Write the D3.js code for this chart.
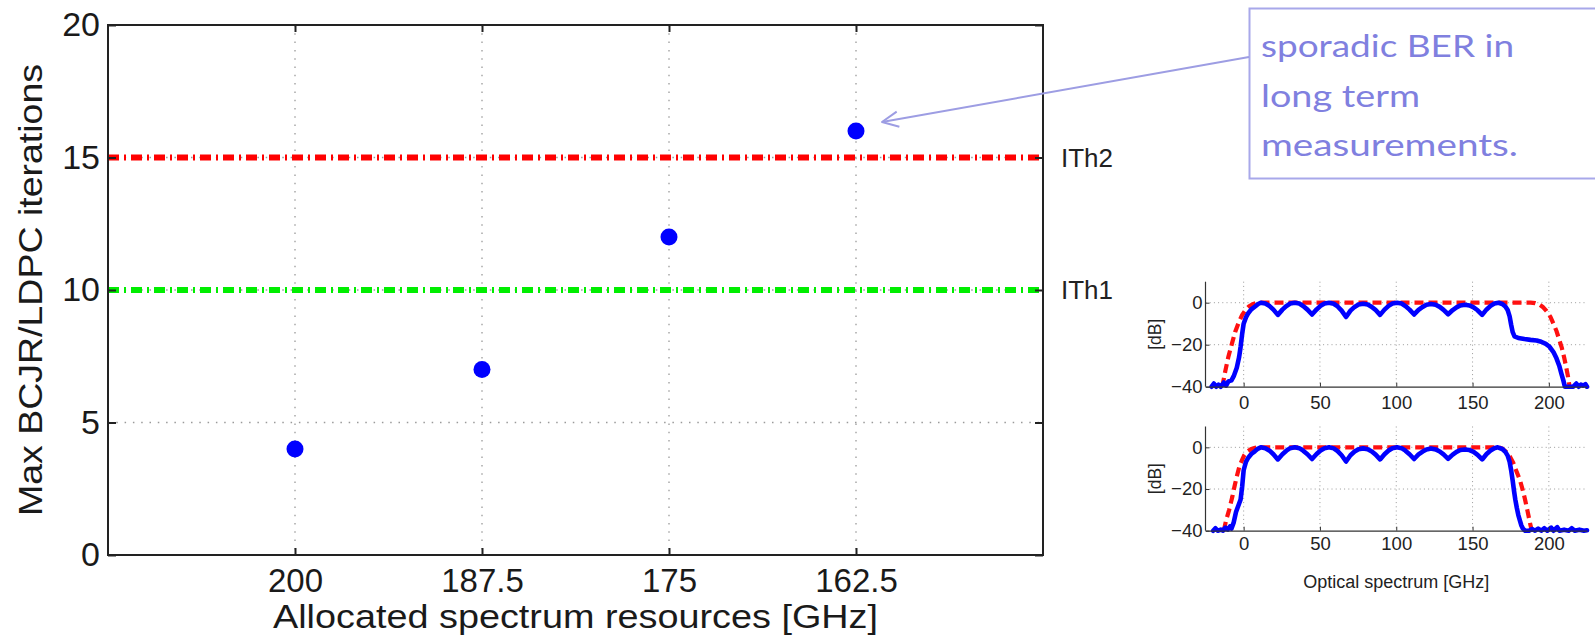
<!DOCTYPE html>
<html>
<head>
<meta charset="utf-8">
<script src="https://cdn.jsdelivr.net/npm/d3@7"></script>
<style>
  html, body { margin: 0; padding: 0; background: #fff; }
  svg { display: block; }
</style>
</head>
<body>
<svg id="chart" width="1595" height="638" style='font-family: "Liberation Sans", Arial, Helvetica, sans-serif;'></svg>
<script>
// ---------------- data ----------------
const spectrumCats = [200, 187.5, 175, 162.5];          // allocated spectrum [GHz]
const maxIterations = [4, 7, 12, 16];                   // max BCJR/LDPC iterations
const yTickValues = [0, 5, 10, 15, 20];
const thresholdValues = [15, 10];
const thresholdLabels = ["ITh2", "ITh1"];

const insetXTicks = [0, 50, 100, 150, 200];
const insetYTicks = [0, -20, -40];

// top inset: measured (blue) and filter (red) spectrum, [GHz, dB]
const specTopBlue = [
  [-21,-40],[-19.5,-38.5],[-18,-40],[-16.5,-39],[-15,-40],[-13,-38],[-11.5,-39.5],[-10,-37.5],[-8,-37],
  [-6.5,-35],[-4.5,-31],[-3,-26],[-2,-21],[-1,-15],[0,-10],[1.5,-7],[3,-5],[5,-3.2],[7.5,-1.8],[9.5,-0.6],[11.2,0],
  [14.2,-0.4],[17,-1.6],[19.5,-3.3],[22.4,-5.8],
  [25.4,-3.3],[28,-1.6],[30.5,-0.4],[33.5,0],[36.5,-0.4],[39,-1.6],[41.8,-3.3],[44.8,-5.6],
  [47.8,-3.2],[50.4,-1.5],[53,-0.4],[56,0],[59,-0.5],[61.6,-1.8],[64.2,-3.8],[67.1,-6.8],
  [70,-3.8],[72.7,-2],[75.3,-0.9],[78.3,-0.5],[81.3,-0.9],[84,-2],[86.5,-3.5],[89.4,-5.8],
  [92.3,-3.3],[95,-1.5],[97.5,-0.4],[100.5,0],[103.5,-0.4],[106,-1.6],[108.7,-3.3],[111.7,-5.6],
  [114.6,-3.4],[117.3,-2],[119.8,-1],[122.8,-0.6],[125.8,-1],[128.5,-2],[131,-3.4],[134,-5.5],
  [137,-3.5],[139.5,-2.2],[142,-1.3],[145,-1],[148,-1.3],[150.7,-2.2],[153.3,-3.6],[156.3,-5.8],
  [159.2,-3.2],[161.8,-1.5],[164.3,-0.4],[167,0],
  [169.5,-0.6],[171.5,-1.8],[173,-3.5],[174.3,-6.5],[175.3,-10.5],[176.3,-14],[177.5,-16],[180,-16.8],
  [184,-17.3],[188,-17.7],[192,-18],[195,-18.6],[198,-19.6],[200.5,-21],[203,-23.5],[205,-26.5],
  [206.8,-30],[208.3,-34],[209.5,-37],[210.5,-40],
  [213,-40],[216,-40],[218,-38.5],[219.5,-40],[221,-39],[222.5,-39.5],[224,-38.8],[225,-40]
];
const specTopRed = [
  [-14,-40],[-12,-32.5],[-10,-25.7],[-7.5,-19],[-5.5,-13.8],[-3,-9],[-1,-5.9],[1.5,-3.2],[3.5,-1.8],
  [6,-0.7],[8.8,0],[188,0],[191,-0.2],[193.5,-0.8],[196,-2],[198.5,-4],[201,-6.7],[203,-10],[205,-13.5],
  [207,-18],[208.5,-21.5],[210,-26],[211.3,-30.5],[212.5,-35],[213.6,-40]
];
// bottom inset
const specBottomBlue = [
  [-20,-40],[-18.5,-38.8],[-17,-40],[-15,-39.5],[-13.5,-40],[-12,-38.5],[-10.5,-39.5],[-9,-38],
  [-8,-39],[-6.5,-36],[-5,-31],[-3.5,-28],[-2,-25],[-1,-19],[0,-11],[1.5,-7],[3,-5],[5,-3.2],[7.5,-1.8],[9.5,-0.6],[11.2,0],
  [14.2,-0.4],[17,-1.6],[19.5,-3.3],[22.4,-5.8],
  [25.4,-3.3],[28,-1.6],[30.5,-0.4],[33.5,0],[36.5,-0.4],[39,-1.6],[41.8,-3.3],[44.8,-5.6],
  [47.8,-3.2],[50.4,-1.5],[53,-0.4],[56,0],[59,-0.5],[61.6,-1.8],[64.2,-3.8],[67.1,-6.8],
  [70,-3.8],[72.7,-2],[75.3,-0.9],[78.3,-0.5],[81.3,-0.9],[84,-2],[86.5,-3.5],[89.4,-5.8],
  [92.3,-3.3],[95,-1.5],[97.5,-0.4],[100.5,0],[103.5,-0.4],[106,-1.6],[108.7,-3.3],[111.7,-5.6],
  [114.6,-3.4],[117.3,-2],[119.8,-1],[122.8,-0.6],[125.8,-1],[128.5,-2],[131,-3.4],[134,-5.5],
  [137,-3.5],[139.5,-2.2],[142,-1.3],[145,-1],[148,-1.3],[150.7,-2.2],[153.3,-3.6],[156.3,-5.8],
  [159.2,-3.2],[161.8,-1.5],[164.3,-0.4],[166.5,0],
  [169.5,-0.8],[171.5,-2.2],[173,-4],[174.3,-7],[175.3,-11],[176.3,-16],[177.2,-21],[178,-25],
  [179,-29],[180,-32.5],[181,-35],[182,-37.5],[183,-39],[184.5,-40],
  [187,-40],[189,-39.2],[191,-40],[193,-39],[195,-40],[197,-38.8],[199,-40],[201.5,-38.5],[203,-40],
  [205.5,-38.3],[207,-40],[210,-39.5],[213,-40],[215,-38.8],[217,-40],[220,-39.5],[223,-40],[225,-39.8]
];
const specBottomRed = [
  [-13,-40],[-11.5,-35],[-9.5,-30],[-7.5,-24],[-6,-18.8],[-4.5,-14],[-2.8,-9.2],[-1,-6],[0.4,-3.8],
  [2.5,-2],[4.8,-0.9],[7,-0.3],[9.2,0],[167,0],[169.5,-0.6],[172.4,-2.4],[174.5,-4.5],[176.7,-7.5],
  [178.5,-11],[181,-15.6],[182.7,-20],[184.4,-25],[186,-30.5],[187.7,-36.5],[188.8,-40]
];

const annotationLines = ["sporadic BER in", "long term", "measurements."];

// ---------------- main chart ----------------
const svg = d3.select("#chart");
const L = 108, R = 1043, T = 25, B = 555;
const x = d3.scaleLinear().domain([212.5, 150]).range([L, R]);
const y = d3.scaleLinear().domain([0, 20]).range([B, T]);

const gridColor = "#9a9a9a";
const grid = svg.append("g");
grid.selectAll("line.vx").data(spectrumCats).join("line")
  .attr("x1", d => x(d)).attr("x2", d => x(d)).attr("y1", T).attr("y2", B)
  .attr("stroke", gridColor).attr("stroke-width", 1.3).attr("stroke-dasharray", "1.5,6.8");
grid.selectAll("line.hy").data(yTickValues.filter(v => v > 0 && v < 20)).join("line")
  .attr("x1", L).attr("x2", R).attr("y1", d => y(d)).attr("y2", d => y(d))
  .attr("stroke", gridColor).attr("stroke-width", 1.3).attr("stroke-dasharray", "1.5,6.8");

// threshold lines
const thrColors = ["#ff0000", "#00ee00"];
svg.append("g").selectAll("line").data(thresholdValues).join("line")
  .attr("x1", L).attr("x2", R).attr("y1", d => y(d)).attr("y2", d => y(d))
  .attr("stroke", (d, i) => thrColors[i]).attr("stroke-width", 6)
  .attr("stroke-dasharray", "11,5,2,5");
svg.append("g").selectAll("text").data(thresholdValues).join("text")
  .attr("x", R + 18).attr("y", d => y(d)).attr("dy", "0.36em")
  .attr("font-size", 26).attr("fill", "#222")
  .text((d, i) => thresholdLabels[i]);

// points
svg.append("g").selectAll("circle").data(spectrumCats).join("circle")
  .attr("cx", d => x(d)).attr("cy", (d, i) => y(maxIterations[i])).attr("r", 8.5)
  .attr("fill", "#0000ff");

// axes
const fmt = d => String(d);
const gx = svg.append("g").attr("transform", `translate(0,${B})`)
  .call(d3.axisBottom(x).tickValues(spectrumCats).tickFormat(fmt).tickSize(-7).tickSizeOuter(0).tickPadding(14));
const gxt = svg.append("g").attr("transform", `translate(0,${T})`)
  .call(d3.axisTop(x).tickValues(spectrumCats).tickFormat("").tickSize(-7).tickSizeOuter(0));
const gy = svg.append("g").attr("transform", `translate(${L},0)`)
  .call(d3.axisLeft(y).tickValues(yTickValues).tickFormat(fmt).tickSize(-8).tickSizeOuter(0).tickPadding(8));
const gyr = svg.append("g").attr("transform", `translate(${R},0)`)
  .call(d3.axisRight(y).tickValues(yTickValues).tickFormat("").tickSize(-8).tickSizeOuter(0));
[gx, gxt, gy, gyr].forEach(g => {
  g.select(".domain").remove();
  g.selectAll(".tick line").attr("stroke", "#222").attr("stroke-width", 2);
  g.selectAll(".tick text").attr("fill", "#1a1a1a")
    .style("font-size", "34px").style("font-family", '"Liberation Sans", Arial, sans-serif');
});
gx.selectAll(".tick text").style("font-size", "33px");
svg.append("rect").attr("x", L).attr("y", T).attr("width", R - L).attr("height", B - T)
  .attr("fill", "none").attr("stroke", "#222").attr("stroke-width", 2);

svg.append("text").attr("x", (L + R) / 2).attr("y", 628).attr("text-anchor", "middle")
  .attr("font-size", 33).attr("fill", "#1a1a1a")
  .attr("textLength", 605).attr("lengthAdjust", "spacingAndGlyphs")
  .text("Allocated spectrum resources [GHz]");
svg.append("text").attr("transform", `translate(42,${(T + B) / 2}) rotate(-90)`)
  .attr("text-anchor", "middle").attr("font-size", 33).attr("fill", "#1a1a1a")
  .attr("textLength", 452).attr("lengthAdjust", "spacingAndGlyphs")
  .text("Max BCJR/LDPC iterations");

// ---------------- insets ----------------
const xi = d3.scaleLinear().domain([-25, 225]).range([1205.5, 1587]);
function drawInset(yBottom, yTop, blue, red, labelPad, withXLabel) {
  const yi = d3.scaleLinear().domain([-40, 10]).range([yBottom, yTop]);
  const g = svg.append("g");
  g.selectAll("line.gx").data(insetXTicks).join("line")
    .attr("x1", d => xi(d)).attr("x2", d => xi(d)).attr("y1", yTop).attr("y2", yBottom)
    .attr("stroke", "#9a9a9a").attr("stroke-width", 1).attr("stroke-dasharray", "1,3.2");
  g.selectAll("line.gy").data(insetYTicks.filter(v => v > -40)).join("line")
    .attr("x1", xi.range()[0]).attr("x2", xi.range()[1]).attr("y1", d => yi(d)).attr("y2", d => yi(d))
    .attr("stroke", "#9a9a9a").attr("stroke-width", 1).attr("stroke-dasharray", "1,3.2");
  const line = d3.line().x(d => xi(d[0])).y(d => yi(d[1]));
  g.append("path").attr("d", line(red)).attr("fill", "none").attr("stroke", "#ff1010")
    .attr("stroke-width", 4.2).attr("stroke-dasharray", "9,5");
  g.append("path").attr("d", line(blue)).attr("fill", "none").attr("stroke", "#0000ff")
    .attr("stroke-width", 4.6).attr("stroke-linejoin", "round").attr("stroke-linecap", "round");
  const ax = g.append("g").attr("transform", `translate(0,${yBottom})`)
    .call(d3.axisBottom(xi).tickValues(insetXTicks).tickSize(-4).tickSizeOuter(0).tickPadding(labelPad));
  const ay = g.append("g").attr("transform", `translate(${xi.range()[0]},0)`)
    .call(d3.axisLeft(yi).tickValues(insetYTicks).tickSize(-4).tickSizeOuter(0).tickPadding(3));
  [ax, ay].forEach(a => {
    a.select(".domain").attr("stroke", "#333").attr("stroke-width", 1.2);
    a.selectAll(".tick line").attr("stroke", "#333");
    a.selectAll(".tick text").attr("fill", "#222")
      .style("font-size", "18.5px").style("font-family", '"Liberation Sans", Arial, sans-serif');
  });
  ay.select(".domain").attr("d", `M0,${yTop}V${yBottom}`);
  g.append("text").attr("transform", `translate(1161,${(yTop + yBottom) / 2}) rotate(-90)`)
    .attr("text-anchor", "middle").attr("font-size", 17.5).attr("fill", "#222").text("[dB]");
  if (withXLabel) {
    g.append("text").attr("x", (xi.range()[0] + xi.range()[1]) / 2).attr("y", 588)
      .attr("text-anchor", "middle").attr("font-size", 18).attr("fill", "#222")
      .text("Optical spectrum [GHz]");
  }
}
drawInset(386.7, 281.7, specTopBlue, specTopRed, 9, false);
drawInset(530.7, 426.5, specBottomBlue, specBottomRed, 6, true);

// ---------------- annotation ----------------
const annColor = "#8080df";
svg.append("rect").attr("x", 1249.5).attr("y", 8.5).attr("width", 360).attr("height", 170)
  .attr("fill", "#fff").attr("stroke", "#a8a8ea").attr("stroke-width", 2);
const annWidths = [253, 159, 257];
svg.append("g").selectAll("text").data(annotationLines).join("text")
  .attr("x", 1261).attr("y", (d, i) => 57 + i * 49.5)
  .style("font-family", "Lato, 'Open Sans', sans-serif").style("font-size", "31px")
  .attr("fill", annColor)
  .attr("textLength", (d, i) => annWidths[i]).attr("lengthAdjust", "spacingAndGlyphs")
  .text(d => d);

// arrow from box to the 162.5 GHz point
const tip = [x(162.5) + 26, y(16) - 9], tail = [1249, 57];
const ang = Math.atan2(tail[1] - tip[1], tail[0] - tip[0]);
const headLen = 18, spread = 0.44;
const arrowColor = "#9d9de3";
svg.append("line").attr("x1", tail[0]).attr("y1", tail[1]).attr("x2", tip[0]).attr("y2", tip[1])
  .attr("stroke", arrowColor).attr("stroke-width", 2);
svg.append("path")
  .attr("d", `M${tip[0] + headLen * Math.cos(ang - spread)},${tip[1] + headLen * Math.sin(ang - spread)}L${tip[0]},${tip[1]}L${tip[0] + headLen * Math.cos(ang + spread)},${tip[1] + headLen * Math.sin(ang + spread)}`)
  .attr("fill", "none").attr("stroke", arrowColor).attr("stroke-width", 2).attr("stroke-linejoin", "round");
</script>
</body>
</html>
